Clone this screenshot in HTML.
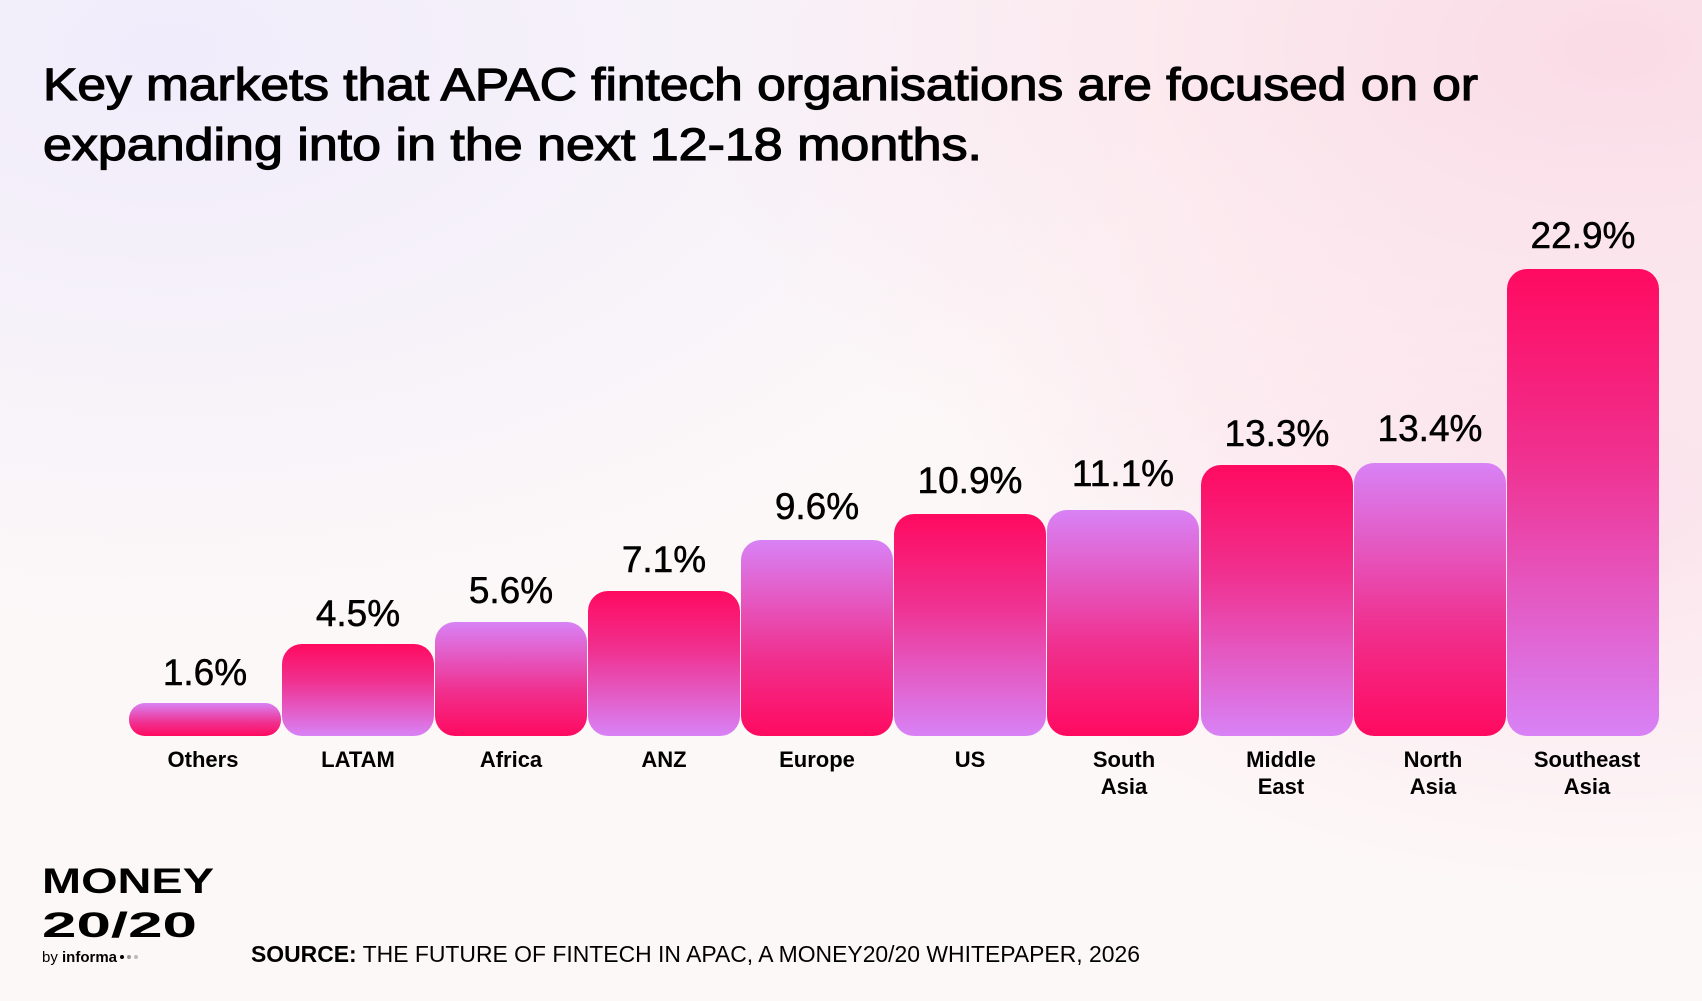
<!DOCTYPE html>
<html><head><meta charset="utf-8"><style>
html,body{margin:0;padding:0;width:1702px;height:1001px;overflow:hidden;}
body{background:#fdf8f8;}
svg{display:block;}
text{font-family:"Liberation Sans",sans-serif;fill:#000;}
</style></head><body>
<svg width="1702" height="1001" viewBox="0 0 1702 1001" xmlns="http://www.w3.org/2000/svg">
<defs>
<radialGradient id="bg1" cx="0.1" cy="0.05" r="0.6"><stop offset="0" stop-color="#f0ecfb"/><stop offset="1" stop-color="#f0ecfb" stop-opacity="0"/></radialGradient>
<radialGradient id="bg2" cx="0.95" cy="0.05" r="0.55"><stop offset="0" stop-color="#fadbe6"/><stop offset="1" stop-color="#fadbe6" stop-opacity="0"/></radialGradient>
<radialGradient id="bg3" cx="0.95" cy="0.5" r="0.4"><stop offset="0" stop-color="#fbe3ec"/><stop offset="1" stop-color="#fbe3ec" stop-opacity="0"/></radialGradient>
<linearGradient id="pk" x1="0" y1="0" x2="0" y2="1"><stop offset="0" stop-color="#ff0a60"/><stop offset="0.4" stop-color="#f0308f"/><stop offset="1" stop-color="#d882f6"/></linearGradient>
<linearGradient id="pu" x1="0" y1="0" x2="0" y2="1"><stop offset="0" stop-color="#d882f6"/><stop offset="0.6" stop-color="#f0308f"/><stop offset="1" stop-color="#ff0a60"/></linearGradient>
</defs>
<rect width="1702" height="1001" fill="#fdf8f8"/>
<rect width="1702" height="1001" fill="url(#bg1)"/>
<rect width="1702" height="1001" fill="url(#bg2)"/>
<rect width="1702" height="1001" fill="url(#bg3)"/>

<g stroke="#000" stroke-width="1.2">
<text x="43" y="100" font-size="45" textLength="1435" lengthAdjust="spacingAndGlyphs">Key markets that APAC fintech organisations are focused on or</text>
<text x="43" y="160" font-size="45" textLength="939" lengthAdjust="spacingAndGlyphs">expanding into in the next 12-18 months.</text>
</g>

<g>
<rect x="129" y="703" width="152" height="33" rx="16" fill="url(#pu)"/>
<rect x="282" y="644" width="152" height="92" rx="20" fill="url(#pk)"/>
<rect x="435" y="622" width="152" height="114" rx="20" fill="url(#pu)"/>
<rect x="588" y="591" width="152" height="145" rx="20" fill="url(#pk)"/>
<rect x="741" y="540" width="152" height="196" rx="20" fill="url(#pu)"/>
<rect x="894" y="514" width="152" height="222" rx="20" fill="url(#pk)"/>
<rect x="1047" y="510" width="152" height="226" rx="20" fill="url(#pu)"/>
<rect x="1201" y="465" width="152" height="271" rx="20" fill="url(#pk)"/>
<rect x="1354" y="463" width="152" height="273" rx="20" fill="url(#pu)"/>
<rect x="1507" y="269" width="152" height="467" rx="20" fill="url(#pk)"/>
</g>

<g font-size="37" text-anchor="middle" stroke="#000" stroke-width="0.5">
<text x="205" y="685">1.6%</text>
<text x="358" y="626">4.5%</text>
<text x="511" y="603">5.6%</text>
<text x="664" y="572">7.1%</text>
<text x="817" y="519">9.6%</text>
<text x="970" y="493">10.9%</text>
<text x="1123" y="486">11.1%</text>
<text x="1277" y="446">13.3%</text>
<text x="1430" y="441">13.4%</text>
<text x="1583" y="248">22.9%</text>
</g>

<g font-size="22" font-weight="bold" text-anchor="middle">
<text x="203" y="767">Others</text>
<text x="358" y="767">LATAM</text>
<text x="511" y="767">Africa</text>
<text x="664" y="767">ANZ</text>
<text x="817" y="767">Europe</text>
<text x="970" y="767">US</text>
<text x="1124" y="767">South</text><text x="1124" y="794">Asia</text>
<text x="1281" y="767">Middle</text><text x="1281" y="794">East</text>
<text x="1433" y="767">North</text><text x="1433" y="794">Asia</text>
<text x="1587" y="767">Southeast</text><text x="1587" y="794">Asia</text>
</g>

<text x="42" y="893" font-size="35" font-weight="bold" textLength="172" lengthAdjust="spacingAndGlyphs">MONEY</text>
<text x="42" y="937" font-size="35" font-weight="bold" textLength="155" lengthAdjust="spacingAndGlyphs">20/20</text>
<text x="42" y="962" font-size="15">by <tspan font-weight="bold">informa</tspan></text>
<circle cx="122" cy="957" r="2" fill="#000"/><circle cx="129" cy="957" r="2" fill="#999"/><circle cx="136" cy="957" r="2" fill="#bbb"/>

<text x="251" y="962" font-size="23" textLength="889" lengthAdjust="spacingAndGlyphs"><tspan font-weight="bold">SOURCE:</tspan> THE FUTURE OF FINTECH IN APAC, A MONEY20/20 WHITEPAPER, 2026</text>
</svg>
</body></html>
